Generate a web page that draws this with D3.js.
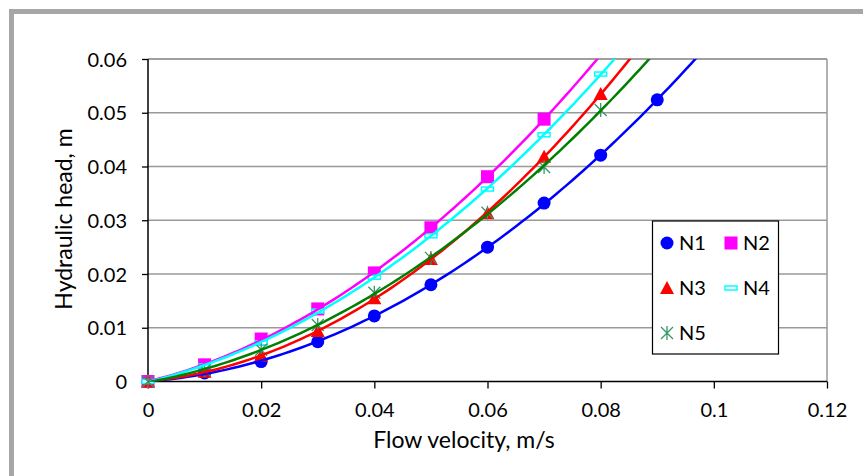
<!DOCTYPE html>
<html>
<head>
<meta charset="utf-8">
<script src="https://cdn.jsdelivr.net/npm/d3@7"></script>
<style>
body { margin: 0; background: #fff; }
text { font-family: Lato, "Open Sans", sans-serif; fill: #000; }
</style>
</head>
<body>
<svg id="svg" width="863" height="476"></svg>
<script>
const velocity = [0, 0.01, 0.02, 0.03, 0.04, 0.05, 0.06, 0.07, 0.08, 0.09];
const n1 = [0, 0.0016, 0.0037, 0.0074, 0.0122, 0.0180, 0.0250, 0.0332, 0.0421, 0.0524];
const n2 = [0, 0.0031, 0.0079, 0.0135, 0.0202, 0.0286, 0.0381, 0.0488];
const n3 = [0, 0.0018, 0.0048, 0.0094, 0.0155, 0.0228, 0.0313, 0.0418, 0.0535];
const n4 = [0, 0.0029, 0.0072, 0.0131, 0.0194, 0.0271, 0.0358, 0.0459, 0.0572];
const n5 = [0, 0.0021, 0.0059, 0.0105, 0.0165, 0.0230, 0.0314, 0.0399, 0.0505];
const xTicks = [0, 0.02, 0.04, 0.06, 0.08, 0.1, 0.12];
const yTicks = [0, 0.01, 0.02, 0.03, 0.04, 0.05, 0.06];

const series = [
  {name: 'N1', vals: n1, line: '#0000ff', mark: 'circle', fill: '#0000ff'},
  {name: 'N2', vals: n2, line: '#ff00ff', mark: 'square', fill: '#ff00ff'},
  {name: 'N3', vals: n3, line: '#ff0000', mark: 'triangle', fill: '#ff0000'},
  {name: 'N4', vals: n4, line: '#00ffff', mark: 'bar', fill: '#00ffff'},
  {name: 'N5', vals: n5, line: '#008000', mark: 'star', fill: '#339966'}
];

const svg = d3.select('#svg');

// outer chart border (runs off right/bottom)
svg.append('rect').attr('x', 11.5).attr('y', 11.5).attr('width', 900).attr('height', 500)
  .attr('fill', 'none').attr('stroke', '#a6a6a6').attr('stroke-width', 5);

const pLeft = 148, pTop = 59, pRight = 827, pBottom = 381.5;
const x = d3.scaleLinear().domain([0, 0.12]).range([pLeft, pRight]);
const y = d3.scaleLinear().domain([0, 0.06]).range([pBottom, pTop]);

// gridlines
svg.append('g').selectAll('line').data(yTicks.slice(1)).enter().append('line')
  .attr('x1', pLeft).attr('x2', pRight)
  .attr('y1', d => y(d)).attr('y2', d => y(d))
  .attr('stroke', d => d === 0.06 ? '#7f7f7f' : '#999').attr('stroke-width', 1.5);
svg.append('line').attr('x1', pRight).attr('x2', pRight).attr('y1', pTop).attr('y2', pBottom)
  .attr('stroke', '#999').attr('stroke-width', 1.5);

// axes
const yAxis = d3.axisLeft(y).tickValues(yTicks).tickSize(6).tickFormat(d => d === 0 ? '0' : d3.format('.2f')(d));
const gy = svg.append('g').attr('transform', `translate(${pLeft},0)`).call(yAxis);
const xAxis = d3.axisBottom(x).tickValues(xTicks).tickSize(7).tickFormat(d => d === 0 ? '0' : String(+d.toFixed(2)));
const gx = svg.append('g').attr('transform', `translate(0,${pBottom})`).call(xAxis);
[gx, gy].forEach(g => {
  g.select('.domain').attr('stroke', '#000').attr('stroke-width', 1.5);
  g.selectAll('.tick line').attr('stroke', '#000').attr('stroke-width', 1.3);
  g.selectAll('.tick text').attr('font-size', 20).attr('font-family', 'Lato, sans-serif').attr('fill', '#000');
});
gy.select('.domain').attr('d', `M0,${pBottom}V${pTop}`);
gx.select('.domain').attr('d', `M${pLeft},0H${pRight}`);
gy.selectAll('.tick text').attr('x', -21).attr('dy', '0.36em');
gx.selectAll('.tick text').attr('y', 21).attr('dy', '0.71em');

// axis titles
svg.append('text').attr('x', 464).attr('y', 448).attr('text-anchor', 'middle')
  .attr('font-size', 23).text('Flow velocity, m/s');
svg.append('text').attr('transform', 'translate(72,219) rotate(-90)').attr('text-anchor', 'middle')
  .attr('font-size', 23).text('Hydraulic head, m');

// quadratic trendline via least squares
function quadFit(xs, ys) {
  let s = [0, 0, 0, 0, 0], t = [0, 0, 0];
  xs.forEach((xv, i) => {
    for (let k = 0; k < 5; k++) s[k] += Math.pow(xv, k);
    for (let k = 0; k < 3; k++) t[k] += ys[i] * Math.pow(xv, k);
  });
  const A = [[s[0], s[1], s[2], t[0]], [s[1], s[2], s[3], t[1]], [s[2], s[3], s[4], t[2]]];
  for (let i = 0; i < 3; i++) {
    for (let j = i + 1; j < 3; j++) {
      const f = A[j][i] / A[i][i];
      for (let k = i; k < 4; k++) A[j][k] -= f * A[i][k];
    }
  }
  const c = [0, 0, 0];
  for (let i = 2; i >= 0; i--) {
    let v = A[i][3];
    for (let k = i + 1; k < 3; k++) v -= A[i][k] * c[k];
    c[i] = v / A[i][i];
  }
  return xv => c[0] + c[1] * xv + c[2] * xv * xv;
}

svg.append('clipPath').attr('id', 'plotclip').append('rect')
  .attr('x', pLeft).attr('y', pTop).attr('width', pRight - pLeft).attr('height', pBottom - pTop);

function drawMark(g, kind, color) {
  if (kind === 'circle') {
    g.append('circle').attr('r', 6.5).attr('fill', color);
  } else if (kind === 'square') {
    g.append('rect').attr('x', -6.5).attr('y', -6.5).attr('width', 13).attr('height', 13).attr('fill', color);
  } else if (kind === 'triangle') {
    g.append('path').attr('d', 'M0,-7L7,6L-7,6Z').attr('fill', color);
  } else if (kind === 'bar') {
    g.append('rect').attr('x', -6).attr('y', -2).attr('width', 12).attr('height', 4)
      .attr('fill', '#fff').attr('stroke', color).attr('stroke-width', 1.5);
  } else if (kind === 'star') {
    g.append('path').attr('d', 'M0,-7V7M-6,-6L6,6M6,-6L-6,6')
      .attr('stroke', color).attr('stroke-width', 1.3).attr('fill', 'none');
  }
}

// markers
series.forEach(s => {
  const pts = s.vals.map((v, i) => [velocity[i], v]);
  svg.append('g').selectAll('g').data(pts).enter().append('g')
    .attr('transform', d => `translate(${x(d[0])},${y(d[1])})`)
    .each(function() { drawMark(d3.select(this), s.mark, s.fill); });
});

// trendlines on top
const line = d3.line().x(d => x(d[0])).y(d => y(d[1]));
series.forEach(s => {
  const xs = velocity.slice(0, s.vals.length);
  const f = quadFit(xs, s.vals);
  const samples = d3.range(0, 0.1201, 0.001).map(v => [v, f(v)]);
  svg.append('path').datum(samples).attr('d', line)
    .attr('clip-path', 'url(#plotclip)')
    .attr('fill', 'none').attr('stroke', s.line).attr('stroke-width', 2.5);
});

// legend
const lg = svg.append('g');
lg.append('rect').attr('x', 652.5).attr('y', 221).attr('width', 126).attr('height', 133)
  .attr('fill', '#fff').attr('stroke', '#000').attr('stroke-width', 1.2);
const legPos = [[667, 243], [731, 243], [667, 288], [731, 288], [667, 333]];
series.forEach((s, i) => {
  const g = lg.append('g').attr('transform', `translate(${legPos[i][0]},${legPos[i][1]})`);
  drawMark(g, s.mark, s.fill);
  g.append('text').attr('x', 12).attr('dy', '0.36em').attr('font-size', 20).text(s.name);
});
</script>
</body>
</html>
